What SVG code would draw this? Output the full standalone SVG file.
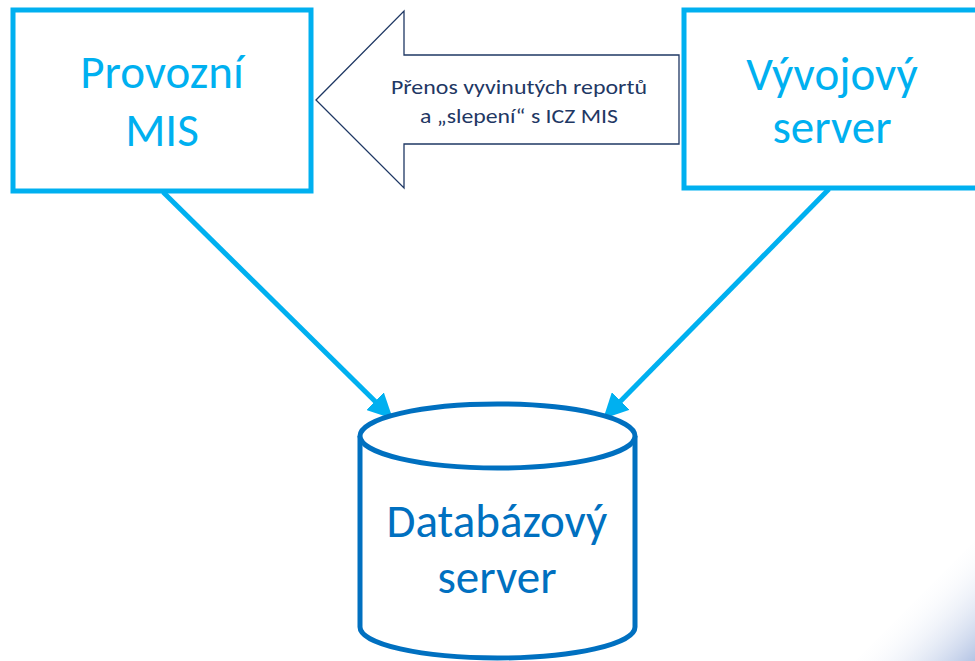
<svg xmlns="http://www.w3.org/2000/svg" width="975" height="661" viewBox="0 0 975 661">
<style>
.box{fill:#fff;stroke:#00B0F0;stroke-width:5;}
.lbl{font-family:Carlito,Calibri,Lato,"Open Sans",sans-serif;fill:#00B0F0;font-size:47px;text-anchor:middle;}
.db{fill:#fff;stroke:#0070C0;stroke-width:5;}
.dbt{font-family:Carlito,Calibri,Lato,"Open Sans",sans-serif;fill:#0070C0;font-size:47px;text-anchor:middle;}
.small{font-family:Carlito,Calibri,Lato,"Open Sans",sans-serif;fill:#1F3864;font-size:21px;text-anchor:middle;}
.conn{stroke:#00B0F0;stroke-width:5;fill:none;}
</style>
<defs>
<marker id="ah" viewBox="0 0 10 10" refX="9" refY="5" markerWidth="5" markerHeight="5" orient="auto" markerUnits="strokeWidth">
<path d="M0,0 L10,5 L0,10 Z" fill="#00B0F0"/>
</marker>
<linearGradient id="corner" x1="0" y1="0" x2="1" y2="1">
<stop offset="0.45" stop-color="#FFFFFF" stop-opacity="0"/>
<stop offset="1" stop-color="#B4C4E4"/>
</linearGradient>
</defs>
<rect width="975" height="661" fill="#fff"/>
<polygon points="975,540 975,661 855,661" fill="url(#corner)"/>
<g id="connectors">
<line class="conn" x1="163" y1="192" x2="391" y2="417" marker-end="url(#ah)"/>
<line class="conn" x1="829" y1="189" x2="605" y2="417" marker-end="url(#ah)"/>
</g>
<g id="transfer">
<polygon points="316,100 404,11 404,55 679,55 679,144 404,144 404,188" fill="#fff" stroke="#1F3864" stroke-width="1.3"/>
<text class="small" x="519" y="94" textLength="256" lengthAdjust="spacingAndGlyphs">Přenos vyvinutých reportů</text>
<text class="small" x="519" y="123" textLength="198" lengthAdjust="spacingAndGlyphs">a „slepení“ s ICZ MIS</text>
</g>
<g id="provozni">
<rect class="box" x="13" y="10" width="298" height="181"/>
<text class="lbl" x="162" y="88">Provozní</text>
<text class="lbl" x="162" y="146">MIS</text>
</g>
<g id="vyvojovy">
<rect class="box" x="684" y="10" width="300" height="178"/>
<text class="lbl" x="832" y="90">Vývojový</text>
<text class="lbl" x="832" y="143">server</text>
</g>
<g id="databaze">
<path class="db" d="M360,436 L360,627 A137.5,31 0 0 0 635,627 L635,436"/>
<ellipse class="db" cx="497.5" cy="436" rx="137.5" ry="32"/>
<text class="dbt" x="497" y="537">Databázový</text>
<text class="dbt" x="497" y="593">server</text>
</g>
</svg>
